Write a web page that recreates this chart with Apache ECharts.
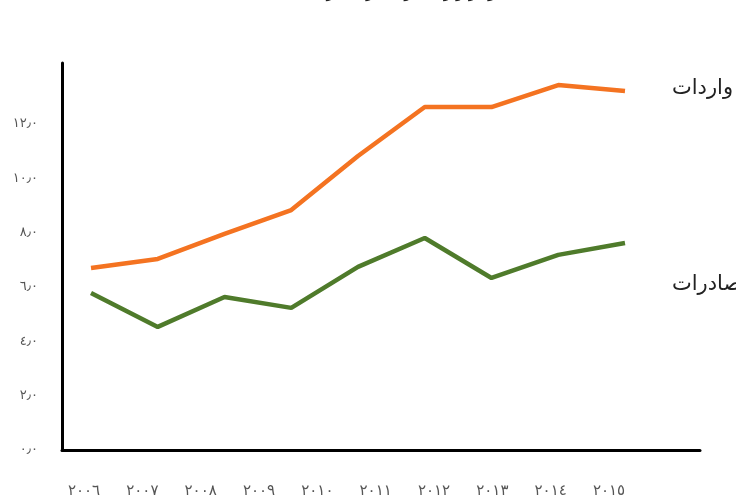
<!DOCTYPE html>
<html>
<head>
<meta charset="utf-8">
<script src="https://cdn.jsdelivr.net/npm/echarts@6/dist/echarts.min.js"></script>
<style>
  html, body { margin: 0; padding: 0; background: #fff; }
  #chart { width: 736px; height: 502px; }
</style>
</head>
<body>
<div id="chart"></div>
<script>
  // years shown under the axis
  const yearLabels = [2006, 2007, 2008, 2009, 2010, 2011, 2012, 2013, 2014, 2015]
  // the drawn lines only have nine points
  const pointYears = [2006, 2007, 2008, 2009, 2010, 2011, 2012, 2013, 2014]
  const imports = [6.70, 7.03, 7.95, 8.83, 10.82, 12.62, 12.62, 13.43, 13.21]
  const exports = [5.78, 4.53, 5.63, 5.23, 6.74, 7.80, 6.33, 7.18, 7.62]
  const yTicks = [0, 2, 4, 6, 8, 10, 12]

  const arabicDigits = ['٠', '١', '٢', '٣', '٤', '٥', '٦', '٧', '٨', '٩']
  function toArabic (s) {
    return String(s).replace(/[0-9]/g, d => arabicDigits[+d])
  }

  function pairs (xs, ys) {
    return xs.map((x, i) => [x, ys[i]])
  }

  const myChart = echarts.init(document.getElementById('chart'))
  const option = {
    backgroundColor: '#fff',
    animation: false,
    grid: { left: 62, right: 36, top: 63, bottom: 52 },
    xAxis: [
      {
        type: 'value',
        min: 2005.623,
        max: 2016.56,
        axisLine: { show: true, lineStyle: { color: '#000', width: 3 } },
        axisTick: { show: false },
        splitLine: { show: false },
        axisLabel: {
          customValues: yearLabels,
          margin: 34,
          fontSize: 15,
          color: '#555',
          fontFamily: 'DejaVu Sans',
          formatter: v => toArabic(v)
        }
      },
      {
        type: 'value',
        min: 2005.5655,
        max: 2015.1236,
        show: false
      }
    ],
    yAxis: {
      type: 'value',
      min: 0,
      max: 14.24,
      axisLine: { show: true, lineStyle: { color: '#000', width: 3 } },
      axisTick: { show: false },
      splitLine: { show: false },
      axisLabel: {
        customValues: yTicks,
        margin: 24,
        fontSize: 13,
        color: '#555',
        fontFamily: 'DejaVu Sans',
        formatter: v => toArabic(v) + '٫' + '٠'
      }
    },
    series: [
      {
        name: 'واردات',
        type: 'line',
        xAxisIndex: 1,
        data: pairs(pointYears, imports),
        showSymbol: false,
        lineStyle: { color: '#f47321', width: 4.5 },
        itemStyle: { color: '#f47321' }
      },
      {
        name: 'صادرات',
        type: 'line',
        xAxisIndex: 1,
        data: pairs(pointYears, exports),
        showSymbol: false,
        lineStyle: { color: '#4f7b2b', width: 4.5 },
        itemStyle: { color: '#4f7b2b' }
      }
    ],
    graphic: [
      {
        type: 'text', left: 672, top: 78,
        style: { text: 'واردات', fontSize: 21, fill: '#222', fontFamily: 'DejaVu Sans' }
      },
      {
        type: 'text', left: 672, top: 274,
        style: { text: 'صادرات', fontSize: 21, fill: '#222', fontFamily: 'DejaVu Sans' }
      },
      {
        type: 'text', left: 215, top: -15,
        style: { text: 'نمودار واردات و صادرات در سال‌های مختلف', fontSize: 16, fill: '#222', fontFamily: 'DejaVu Sans' }
      }
    ]
  }
  myChart.setOption(option)
</script>
</body>
</html>
